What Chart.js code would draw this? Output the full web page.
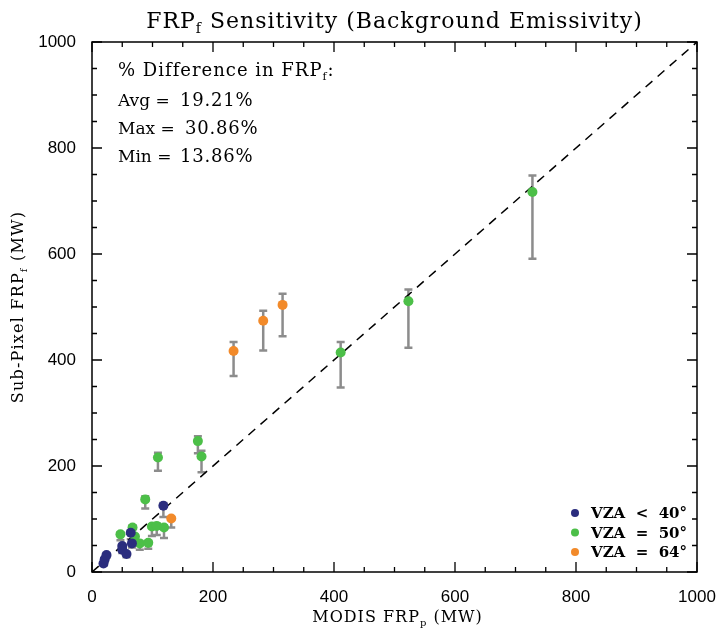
<!DOCTYPE html>
<html>
<head>
<meta charset="utf-8">
<script src="https://cdn.jsdelivr.net/npm/chart.js@4.4.1/dist/chart.umd.min.js"></script>
<style>
  html, body { margin: 0; padding: 0; background: #fff; }
  #wrap { width: 726px; height: 628px; }
</style>
</head>
<body>
<div id="wrap"><canvas id="frpChart"></canvas></div>
<script>
// Valores (MW)
const navyX  = [19, 21, 24, 50, 50, 57, 64, 66, 118];
const navyY  = [16, 24, 32, 49, 42, 34, 74, 54, 125];
const navyLo = [12, 19, 27, 40, 36, 28, 62, 46, 104];
const navyHi = [18, 26, 35, 52, 44, 37, 78, 57, 130];

const greenX  = [47, 67, 71, 79, 93, 99, 107, 119, 88, 109, 175, 181, 411, 523, 728];
const greenY  = [71, 84, 67, 54, 55, 86, 87, 84, 137, 216, 247, 218, 414, 511, 717];
const greenLo = [60, 72, 58, 42, 44, 68, 70, 64, 120, 191, 224, 188, 348, 423, 591];
const greenHi = [75, 88, 70, 57, 58, 90, 91, 88, 143, 225, 256, 229, 434, 533, 748];

const orangeX  = [131, 234, 283, 315];
const orangeY  = [101, 417, 474, 504];
const orangeLo = [84, 370, 418, 445];
const orangeHi = [104, 434, 493, 525];

const lineX = [0, 1000];
const lineY = [0, 1000];

const majorTicks = [0, 200, 400, 600, 800, 1000];
const minorTicks = [50, 100, 150, 250, 300, 350, 450, 500, 550, 650, 700, 750, 850, 900, 950];

const legendLabels = ['VZA  <  40°', 'VZA  =  50°', 'VZA  =  64°'];
const statLabels = ['Avg =', 'Max =', 'Min ='];
const statValues = ['19.21%', '30.86%', '13.86%'];

const colNavy = '#2b2d7e';
const colGreen = '#4cbf48';
const colOrange = '#f28a2a';
const colErr = '#8c8c8c';

const SERIF = '"DejaVu Serif", "Liberation Serif", serif';
const SANS = '"Liberation Sans", "DejaVu Sans", sans-serif';

function toPoints(xs, ys) {
    return xs.map((x, i) => ({ x: x, y: ys[i] }));
}

// texto con subindices: partes [{t, sub}]
function drawRich(ctx, parts, x, y, size, align, spacing) {
    const small = Math.round(size * 0.62);
    ctx.letterSpacing = (spacing || 0) + 'px';
    let total = 0;
    parts.forEach(p => {
        ctx.font = (p.sub ? small : size) + 'px ' + SERIF;
        total += ctx.measureText(p.t).width;
    });
    let cx = align === 'center' ? x - total / 2 : x;
    ctx.textAlign = 'left';
    ctx.textBaseline = 'alphabetic';
    parts.forEach(p => {
        ctx.font = (p.sub ? small : size) + 'px ' + SERIF;
        ctx.fillText(p.t, cx, p.sub ? y + size * 0.22 : y);
        cx += ctx.measureText(p.t).width;
    });
    ctx.letterSpacing = '0px';
}

const errorSets = [
    { xs: navyX, lo: navyLo, hi: navyHi },
    { xs: greenX, lo: greenLo, hi: greenHi },
    { xs: orangeX, lo: orangeLo, hi: orangeHi }
];

const errorBars = {
    id: 'errorBars',
    beforeDatasetsDraw(chart) {
        const ctx = chart.ctx;
        const xs = chart.scales.x, ys = chart.scales.y;
        ctx.save();
        ctx.strokeStyle = colErr;
        ctx.lineWidth = 2.5;
        errorSets.forEach(s => {
            s.xs.forEach((x, i) => {
                const px = xs.getPixelForValue(x);
                const p1 = ys.getPixelForValue(s.lo[i]);
                const p2 = ys.getPixelForValue(s.hi[i]);
                ctx.beginPath();
                ctx.moveTo(px, p1); ctx.lineTo(px, p2);
                ctx.moveTo(px - 4, p1); ctx.lineTo(px + 4, p1);
                ctx.moveTo(px - 4, p2); ctx.lineTo(px + 4, p2);
                ctx.stroke();
            });
        });
        ctx.restore();
    }
};

const frame = {
    id: 'frame',
    afterDraw(chart) {
        const ctx = chart.ctx;
        const a = chart.chartArea;
        const xs = chart.scales.x, ys = chart.scales.y;
        ctx.save();
        ctx.strokeStyle = '#000';
        ctx.lineWidth = 1.5;
        ctx.strokeRect(a.left, a.top, a.right - a.left, a.bottom - a.top);

        // marcas hacia adentro en los cuatro lados
        ctx.lineWidth = 1.3;
        ctx.beginPath();
        [[majorTicks, 10], [minorTicks, 5]].forEach(([vals, len]) => {
            vals.forEach(v => {
                const px = xs.getPixelForValue(v);
                ctx.moveTo(px, a.bottom); ctx.lineTo(px, a.bottom - len);
                ctx.moveTo(px, a.top); ctx.lineTo(px, a.top + len);
                const py = ys.getPixelForValue(v);
                ctx.moveTo(a.left, py); ctx.lineTo(a.left + len, py);
                ctx.moveTo(a.right, py); ctx.lineTo(a.right - len, py);
            });
        });
        ctx.stroke();

        ctx.fillStyle = '#000';
        const midX = (a.left + a.right) / 2;
        const midY = (a.top + a.bottom) / 2;

        // titulo
        drawRich(ctx, [{ t: 'FRP' }, { t: 'f', sub: true }, { t: ' Sensitivity (Background Emissivity)' }],
            midX, 28, 22, 'center', 1);

        // titulo eje x
        drawRich(ctx, [{ t: 'MODIS FRP' }, { t: 'p', sub: true }, { t: ' (MW)' }],
            midX + 3, 622, 16, 'center', 1);

        // titulo eje y
        ctx.save();
        ctx.translate(23, midY);
        ctx.rotate(-Math.PI / 2);
        drawRich(ctx, [{ t: 'Sub-Pixel FRP' }, { t: 'f', sub: true }, { t: ' (MW)' }],
            0, 0, 16, 'center', 1.2);
        ctx.restore();

        // estadisticas
        drawRich(ctx, [{ t: '% Difference in FRP' }, { t: 'f', sub: true }, { t: ':' }],
            a.left + 26, 76, 18, 'left', 1);
        statLabels.forEach((lab, i) => {
            const y = 106 + i * 28;
            drawRich(ctx, [{ t: lab }], a.left + 26, y, 17, 'left', 0);
            drawRich(ctx, [{ t: statValues[i] }], a.left + (i === 1 ? 93 : 88), y, 18, 'left', 0.8);
        });

        // leyenda
        const cols = [colNavy, colGreen, colOrange];
        legendLabels.forEach((lab, i) => {
            const y = 518 + i * 19.5;
            ctx.fillStyle = cols[i];
            ctx.beginPath();
            ctx.arc(a.right - 122, y - 5, 4, 0, Math.PI * 2);
            ctx.fill();
            ctx.fillStyle = '#000';
            ctx.font = 'bold 15px ' + SERIF;
            ctx.textAlign = 'left';
            ctx.fillText(lab, a.right - 106, y);
        });
        ctx.restore();
    }
};

function generarGrafico() {
    const ctx = document.getElementById('frpChart').getContext('2d');
    const pointStyle = (color) => ({
        pointRadius: 5,
        pointHoverRadius: 5,
        pointBorderWidth: 0,
        pointBackgroundColor: color,
        backgroundColor: color,
        borderColor: color
    });

    new Chart(ctx, {
        type: 'scatter',
        data: {
            datasets: [
                Object.assign({ label: legendLabels[0], data: toPoints(navyX, navyY) }, pointStyle(colNavy)),
                Object.assign({ label: legendLabels[1], data: toPoints(greenX, greenY) }, pointStyle(colGreen)),
                Object.assign({ label: legendLabels[2], data: toPoints(orangeX, orangeY) }, pointStyle(colOrange)),
                {
                    type: 'line',
                    label: '1:1',
                    data: toPoints(lineX, lineY),
                    borderColor: '#000',
                    borderWidth: 1.5,
                    borderDash: [9, 7],
                    pointRadius: 0,
                    fill: false,
                    order: 10
                }
            ]
        },
        options: {
            responsive: true,
            maintainAspectRatio: false,
            animation: false,
            layout: { padding: { top: 42, right: 29, left: 0, bottom: 0 } },
            plugins: {
                legend: { display: false },
                tooltip: { enabled: false }
            },
            scales: {
                x: {
                    type: 'linear',
                    min: 0,
                    max: 1000,
                    grid: { display: false },
                    border: { display: false },
                    ticks: { stepSize: 200, color: '#000', padding: 7, maxRotation: 0,
                             callback: v => String(v),
                             font: { family: SANS, size: 17 } },
                    afterFit(scale) { scale.height = 56; }
                },
                y: {
                    type: 'linear',
                    min: 0,
                    max: 1000,
                    grid: { display: false },
                    border: { display: false },
                    ticks: { stepSize: 200, color: '#000', padding: 8,
                             callback: v => String(v),
                             font: { family: SANS, size: 17 } },
                    afterFit(scale) { scale.width = 92; }
                }
            }
        },
        plugins: [errorBars, frame]
    });
}

window.onload = generarGrafico;
</script>
</body>
</html>
